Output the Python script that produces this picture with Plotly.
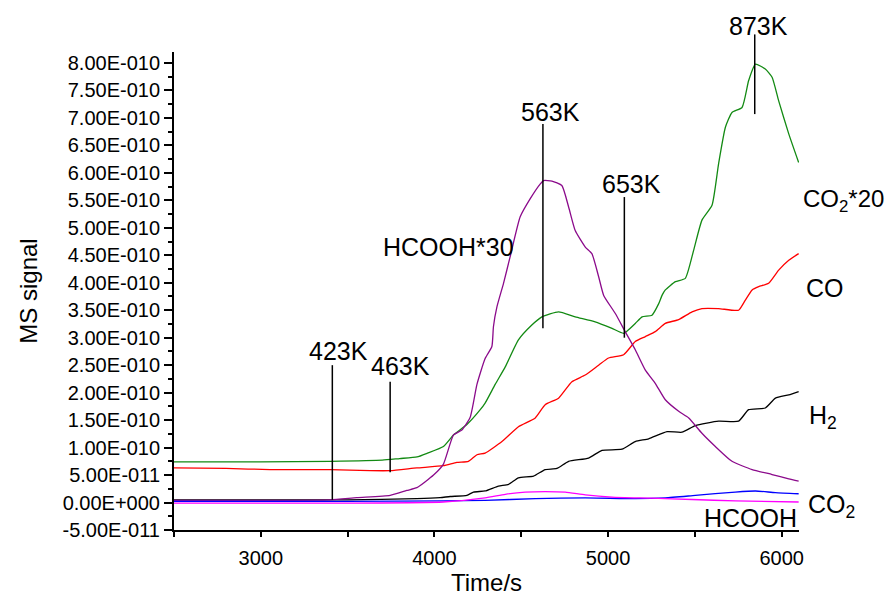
import plotly.graph_objects as go

# Signals are listed in units of 1e-10 (MS signal, a.u.)
UNIT = 1e-10

# CO2 signal scaled x20
co2x20_t = [2500, 3000, 3400, 3700, 3800, 3900, 3960, 4052, 4110, 4187, 4264, 4292, 4350, 4408,
            4484, 4561, 4619, 4715, 4811, 4926, 5023, 5090, 5157, 5196, 5253, 5292, 5311, 5330,
            5388, 5445, 5493, 5541, 5599, 5637, 5676, 5714, 5772, 5810, 5849, 5906, 5945, 5983,
            6041, 6098]
co2x20_v = [0.74, 0.74, 0.75, 0.77, 0.80, 0.83, 0.90, 1.02, 1.23, 1.42, 1.69, 1.81, 2.15, 2.47,
            2.96, 3.23, 3.38, 3.47, 3.38, 3.29, 3.17, 3.08, 3.26, 3.38, 3.41, 3.62, 3.77, 3.87,
            4.02, 4.08, 4.59, 5.14, 5.41, 6.17, 6.83, 7.10, 7.19, 7.68, 7.98, 7.89, 7.74, 7.31,
            6.71, 6.19]

# CO
co_t = [2500, 2800, 3053, 3399, 3630, 3745, 3899, 4052, 4129, 4196, 4245, 4292, 4389, 4484,
        4581, 4638, 4715, 4792, 4869, 4946, 5003, 5090, 5157, 5215, 5272, 5330, 5407, 5484,
        5541, 5637, 5752, 5790, 5830, 5868, 5925, 5983, 6041, 6098]
co_v = [0.63, 0.62, 0.60, 0.60, 0.58, 0.58, 0.63, 0.67, 0.73, 0.75, 0.87, 0.90, 1.11, 1.38,
        1.54, 1.78, 1.90, 2.20, 2.32, 2.50, 2.63, 2.69, 2.93, 3.02, 3.11, 3.26, 3.33, 3.47,
        3.53, 3.53, 3.50, 3.68, 3.87, 3.93, 3.99, 4.23, 4.41, 4.53]

# H2
h2_t = [2500, 3500, 3899, 4033, 4091, 4187, 4225, 4292, 4369, 4427, 4484, 4571, 4638, 4705,
        4773, 4888, 4965, 5080, 5157, 5234, 5340, 5426, 5503, 5637, 5752, 5810, 5906, 5964,
        6041, 6098]
h2_v = [0.05, 0.05, 0.07, 0.09, 0.11, 0.13, 0.19, 0.21, 0.30, 0.33, 0.45, 0.48, 0.60, 0.62,
        0.75, 0.81, 0.95, 0.97, 1.11, 1.16, 1.29, 1.28, 1.40, 1.48, 1.48, 1.69, 1.72, 1.90,
        1.96, 2.02]

# HCOOH signal scaled x30
hcoohx30_t = [2500, 3000, 3399, 3553, 3745, 3841, 3899, 3995, 4052, 4110, 4158, 4206, 4245,
              4292, 4331, 4340, 4360, 4398, 4436, 4494, 4552, 4610, 4629, 4677, 4734, 4773,
              4811, 4869, 4907, 4946, 4975, 5042, 5099, 5157, 5215, 5272, 5330, 5407, 5465,
              5541, 5618, 5714, 5830, 5945, 6041, 6098]
hcoohx30_v = [0.04, 0.04, 0.05, 0.09, 0.13, 0.22, 0.27, 0.50, 0.70, 1.23, 1.32, 1.55, 2.15,
              2.62, 2.84, 3.20, 3.56, 3.99, 4.47, 5.20, 5.53, 5.80, 5.86, 5.85, 5.77, 5.38,
              4.95, 4.65, 4.53, 4.11, 3.77, 3.44, 3.11, 2.78, 2.41, 2.17, 1.87, 1.66, 1.54,
              1.26, 1.02, 0.75, 0.60, 0.51, 0.43, 0.39]

# CO2 (unscaled)
co2_t = [2500, 3500, 4050, 4292, 4581, 4869, 5157, 5330, 5503, 5733, 5849, 5964, 6098]
co2_v = [0.02, 0.02, 0.03, 0.04, 0.07, 0.085, 0.07, 0.085, 0.13, 0.19, 0.21, 0.18, 0.16]

# HCOOH (unscaled)
hcooh_t = [2500, 3500, 4050, 4292, 4408, 4523, 4638, 4754, 4869, 5023, 5253, 5484, 5733, 6098]
hcooh_v = [-0.01, -0.01, 0.01, 0.085, 0.15, 0.19, 0.20, 0.19, 0.14, 0.10, 0.08, 0.055, 0.03, 0.01]

# Temperature markers: (label, time, line bottom, line top, label x, label y)
temp_marks = [
    ("423K", 3412, 0.05, 2.50, 3445, 2.76),
    ("463K", 3745, 0.55, 2.20, 3803, 2.49),
    ("563K", 4625, 3.17, 6.89, 4667, 7.11),
    ("653K", 5094, 3.00, 5.56, 5138, 5.80),
    ("873K", 5845, 7.07, 8.52, 5866, 8.68),
]

# Series labels: (text, time, signal, x anchor, font size)
series_labels = [
    ("CO<sub>2</sub>*20", 6113, 5.50, "left", 24),
    ("CO", 6130, 3.90, "left", 25),
    ("H<sub>2</sub>", 6145, 1.55, "left", 25),
    ("CO<sub>2</sub>", 6140, -0.06, "left", 25),
    ("HCOOH", 6100, -0.29, "right", 25),
    ("HCOOH*30", 3690, 4.65, "left", 25),
]

y_tickvals = [-0.5, 0.0, 0.5, 1.0, 1.5, 2.0, 2.5, 3.0, 3.5, 4.0, 4.5, 5.0, 5.5, 6.0, 6.5, 7.0, 7.5, 8.0]
y_ticktext = ["-5.00E-011", "0.00E+000", "5.00E-011", "1.00E-010", "1.50E-010", "2.00E-010",
              "2.50E-010", "3.00E-010", "3.50E-010", "4.00E-010", "4.50E-010", "5.00E-010",
              "5.50E-010", "6.00E-010", "6.50E-010", "7.00E-010", "7.50E-010", "8.00E-010"]
x_tickvals = [2500, 3000, 3500, 4000, 4500, 5000, 5500, 6000]
x_ticktext = ["", "3000", "", "4000", "", "5000", "", "6000"]

X_RANGE = [2500, 6100]
Y_RANGE = [-0.5, 8.2]

FONT = "Liberation Sans, Arial, sans-serif"

series = [
    (co2x20_t, co2x20_v, "#138a13", "CO2*20"),
    (co_t, co_v, "#ff0000", "CO"),
    (h2_t, h2_v, "#000000", "H2"),
    (hcoohx30_t, hcoohx30_v, "#8b0a8b", "HCOOH*30"),
    (co2_t, co2_v, "#0000ff", "CO2"),
    (hcooh_t, hcooh_v, "#ff00ff", "HCOOH"),
]


def xpaper(t):
    return (t - X_RANGE[0]) / (X_RANGE[1] - X_RANGE[0])


def ypaper(v):
    return (v - Y_RANGE[0]) / (Y_RANGE[1] - Y_RANGE[0])


fig = go.Figure()
for t, v, color, name in series:
    fig.add_trace(go.Scatter(
        x=t, y=[s * UNIT for s in v], mode="lines", name=name,
        line=dict(color=color, width=1.3, shape="spline", smoothing=0.5),
        showlegend=False, hoverinfo="skip",
    ))

for label, t, y0, y1, lx, ly in temp_marks:
    fig.add_shape(type="line", xref="x", yref="paper",
                  x0=t, x1=t, y0=ypaper(y0), y1=ypaper(y1),
                  line=dict(color="black", width=1.5), layer="above")
    fig.add_annotation(text=label, xref="paper", yref="paper",
                       x=xpaper(lx), y=ypaper(ly), xanchor="center", yanchor="middle",
                       showarrow=False, font=dict(size=25, color="black", family=FONT))

for text, t, v, anchor, size in series_labels:
    fig.add_annotation(text=text, xref="paper", yref="paper",
                       x=xpaper(t), y=ypaper(v), xanchor=anchor, yanchor="middle",
                       showarrow=False, font=dict(size=size, color="black", family=FONT))

fig.update_layout(
    width=885, height=604,
    margin=dict(l=174, r=86, t=52, b=74),
    paper_bgcolor="white", plot_bgcolor="white",
    font=dict(family=FONT, color="black", size=20),
    xaxis=dict(
        range=X_RANGE, tickmode="array", tickvals=x_tickvals, ticktext=x_ticktext,
        ticks="outside", ticklen=5, tickwidth=1.5, tickcolor="black",
        ticklabelstandoff=4,
        showline=True, linecolor="black", linewidth=2, showgrid=False, zeroline=False,
        tickfont=dict(size=20),
        title=dict(text="Time/s", font=dict(size=24), standoff=2),
    ),
    yaxis=dict(
        range=[Y_RANGE[0] * UNIT, Y_RANGE[1] * UNIT], tickmode="array",
        tickvals=[v * UNIT for v in y_tickvals], ticktext=y_ticktext,
        ticks="outside", ticklen=8, tickwidth=1.5, tickcolor="black",
        minor=dict(tickmode="linear", tick0=0, dtick=0.25 * UNIT, ticks="outside",
                   ticklen=4, tickwidth=1.5, tickcolor="black"),
        showline=True, linecolor="black", linewidth=2, showgrid=False, zeroline=False,
        tickfont=dict(size=20),
        title=dict(text="MS signal", font=dict(size=24), standoff=18),
    ),
)

fig.write_html("out.html")
